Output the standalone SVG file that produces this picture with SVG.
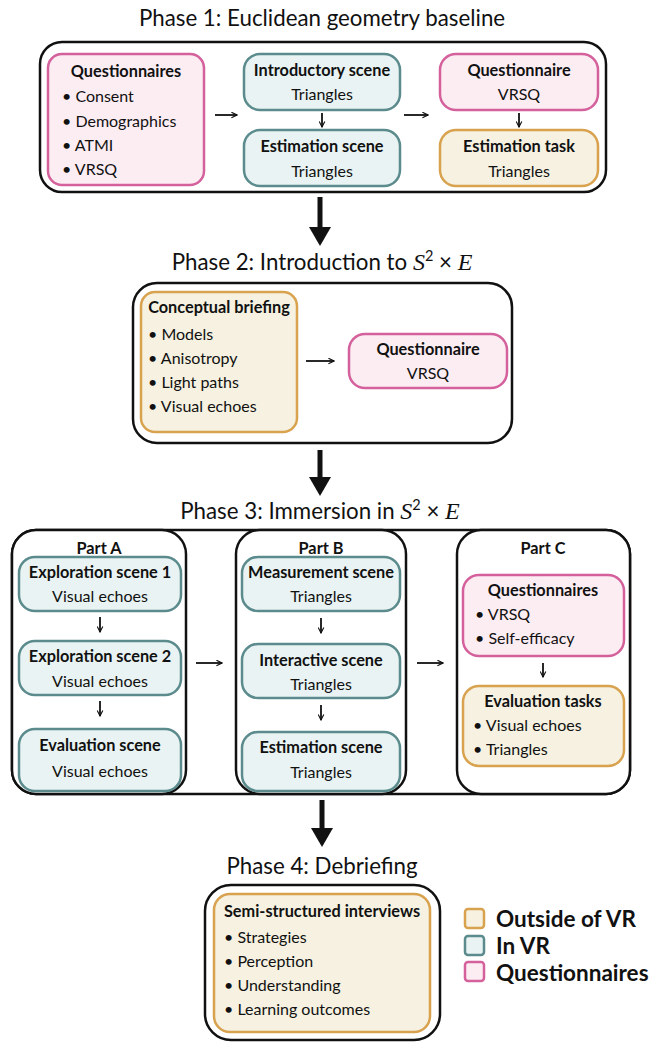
<svg xmlns="http://www.w3.org/2000/svg" width="671" height="1044" viewBox="0 0 671 1044">
<defs>
<style>
.title{font-family:Lato,"Noto Sans",sans-serif;font-size:22.3px;fill:#111;text-anchor:middle}
.math{font-family:"Liberation Serif",serif;font-style:italic}
.h{font-family:Lato,"Noto Sans",sans-serif;font-size:16.3px;font-weight:bold;fill:#111;text-anchor:middle}
.t{font-family:Lato,"Noto Sans",sans-serif;font-size:16px;fill:#111;text-anchor:middle}
.b{font-family:Lato,"Noto Sans",sans-serif;font-size:16px;fill:#111}
.leg{font-family:Lato,"Noto Sans",sans-serif;font-size:22.5px;font-weight:bold;fill:#111}
.outer{fill:#fff;stroke:#111;stroke-width:2.5}
.pink{fill:#fcedf3;stroke:#d4609c;stroke-width:2.5}
.teal{fill:#e9f3f3;stroke:#5b8b8c;stroke-width:2.5}
.orange{fill:#f6f1e1;stroke:#d8a24e;stroke-width:2.5}
.sa{fill:none;stroke:#111;stroke-width:1.8;marker-end:url(#chev)}
.big{fill:none;stroke:#111;stroke-width:5}
</style>
<marker id="chev" viewBox="0 0 10 10" refX="9" refY="5" markerWidth="7" markerHeight="7" orient="auto" markerUnits="userSpaceOnUse">
<path d="M1,1 L9,5 L1,9" fill="none" stroke="#111" stroke-width="1.6"/>
</marker>
</defs>
<rect width="671" height="1044" fill="#fff"/>

<!-- Phase 1 -->
<text class="title" x="322" y="26">Phase 1: Euclidean geometry baseline</text>
<g id="phase1">
<rect class="outer" x="40" y="42" width="566" height="150" rx="22"/>
</g>
<g id="p1-questionnaires">
<rect class="pink" x="48" y="54" width="156" height="131" rx="14"/>
<text class="h" x="126" y="77">Questionnaires</text>
<g class="b"><text x="62" y="102">• Consent</text><text x="62" y="127">• Demographics</text><text x="62" y="151">• ATMI</text><text x="62" y="175">• VRSQ</text></g>
</g>
<g id="p1-intro">
<rect class="teal" x="244" y="54" width="156" height="56" rx="16"/>
<text class="h" x="322" y="76">Introductory scene</text>
<text class="t" x="322" y="100">Triangles</text>
</g>
<g id="p1-estscene">
<rect class="teal" x="244" y="130" width="156" height="56" rx="16"/>
<text class="h" x="322" y="152">Estimation scene</text>
<text class="t" x="322" y="177">Triangles</text>
</g>
<g id="p1-vrsq">
<rect class="pink" x="440" y="54" width="158" height="56" rx="16"/>
<text class="h" x="519" y="76">Questionnaire</text>
<text class="t" x="519" y="100">VRSQ</text>
</g>
<g id="p1-esttask">
<rect class="orange" x="440" y="130" width="158" height="56" rx="16"/>
<text class="h" x="519" y="152">Estimation task</text>
<text class="t" x="519" y="177">Triangles</text>
</g>

<!-- Phase 2 -->
<text class="title" x="322" y="270">Phase 2: Introduction to <tspan class="math" font-size="24">S</tspan><tspan font-size="14.5" dy="-9">2</tspan><tspan dy="9"> × </tspan><tspan class="math" font-size="24">E</tspan></text>
<g id="phase2">
<rect class="outer" x="133" y="283" width="379" height="160" rx="24"/>
</g>
<g id="p2-briefing">
<rect class="orange" x="141" y="292" width="156" height="140" rx="14"/>
<text class="h" x="219" y="313">Conceptual briefing</text>
<g class="b"><text x="148" y="340">• Models</text><text x="148" y="364">• Anisotropy</text><text x="148" y="388">• Light paths</text><text x="148" y="412">• Visual echoes</text></g>
</g>
<g id="p2-vrsq">
<rect class="pink" x="349" y="334" width="158" height="54" rx="16"/>
<text class="h" x="428" y="355">Questionnaire</text>
<text class="t" x="428" y="379">VRSQ</text>
</g>

<!-- Phase 3 -->
<text class="title" x="320" y="519">Phase 3: Immersion in <tspan class="math" font-size="24">S</tspan><tspan font-size="14.5" dy="-9">2</tspan><tspan dy="9"> × </tspan><tspan class="math" font-size="24">E</tspan></text>
<g id="phase3">
<rect class="outer" x="12" y="530" width="618" height="264" rx="24"/>
</g>
<g id="partA">
<rect class="outer" x="12" y="530" width="174" height="264" rx="24"/>
<text class="h" x="99" y="554">Part A</text>
</g>
<g id="a-exp1">
<rect class="teal" x="19" y="557" width="162" height="54" rx="16"/>
<text class="h" x="100" y="578">Exploration scene 1</text>
<text class="t" x="100" y="602">Visual echoes</text>
</g>
<g id="a-exp2">
<rect class="teal" x="19" y="641" width="162" height="54" rx="16"/>
<text class="h" x="100" y="662">Exploration scene 2</text>
<text class="t" x="100" y="687">Visual echoes</text>
</g>
<g id="a-eval">
<rect class="teal" x="19" y="729" width="162" height="62" rx="16"/>
<text class="h" x="100" y="751">Evaluation scene</text>
<text class="t" x="100" y="777">Visual echoes</text>
</g>
<g id="partB">
<rect class="outer" x="236" y="530" width="170" height="264" rx="24"/>
<text class="h" x="321" y="554">Part B</text>
</g>
<g id="b-meas">
<rect class="teal" x="242" y="557" width="158" height="54" rx="16"/>
<text class="h" x="321" y="578">Measurement scene</text>
<text class="t" x="321" y="602">Triangles</text>
</g>
<g id="b-inter">
<rect class="teal" x="242" y="644" width="158" height="54" rx="16"/>
<text class="h" x="321" y="666">Interactive scene</text>
<text class="t" x="321" y="690">Triangles</text>
</g>
<g id="b-est">
<rect class="teal" x="242" y="732" width="158" height="59" rx="16"/>
<text class="h" x="321" y="753">Estimation scene</text>
<text class="t" x="321" y="778">Triangles</text>
</g>
<g id="partC">
<rect class="outer" x="457" y="530" width="173" height="264" rx="24"/>
<text class="h" x="543" y="554">Part C</text>
</g>
<g id="c-quest">
<rect class="pink" x="463" y="575" width="161" height="81" rx="16"/>
<text class="h" x="543" y="596">Questionnaires</text>
<g class="b"><text x="475" y="620">• VRSQ</text><text x="475" y="644">• Self-efficacy</text></g>
</g>
<g id="c-eval">
<rect class="orange" x="463" y="686" width="161" height="80" rx="16"/>
<text class="h" x="543" y="707">Evaluation tasks</text>
<g class="b"><text x="473" y="731">• Visual echoes</text><text x="473" y="755">• Triangles</text></g>
</g>

<!-- Phase 4 -->
<text class="title" x="322" y="874">Phase 4: Debriefing</text>
<g id="phase4">
<rect class="outer" x="205" y="885" width="235" height="155" rx="26"/>
</g>
<g id="p4-interviews">
<rect class="orange" x="214" y="894" width="216" height="138" rx="16"/>
<text class="h" x="322" y="917">Semi-structured interviews</text>
<g class="b"><text x="224" y="943">• Strategies</text><text x="224" y="967">• Perception</text><text x="224" y="991">• Understanding</text><text x="224" y="1015">• Learning outcomes</text></g>
</g>

<!-- Legend -->
<g id="legend">
<rect class="orange" x="465" y="909" width="19" height="19" rx="3"/>
<rect class="teal" x="465" y="936" width="19" height="19" rx="3"/>
<rect class="pink" x="465" y="962" width="19" height="19" rx="3"/>
<text class="leg" x="496" y="927">Outside of VR</text>
<text class="leg" x="496" y="954">In VR</text>
<text class="leg" x="496" y="981">Questionnaires</text>
</g>

<!-- Connectors -->
<g id="connectors">
<path class="sa" d="M215,115 H237"/>
<path class="sa" d="M322,113 V127"/>
<path class="sa" d="M404,115 H428"/>
<path class="sa" d="M519,113 V127"/>
<path class="sa" d="M306,361 H334"/>
<path class="sa" d="M100,617 V632"/>
<path class="sa" d="M100,701 V716"/>
<path class="sa" d="M321,618 V633"/>
<path class="sa" d="M321,705 V720"/>
<path class="sa" d="M543,663 V677"/>
<path class="sa" d="M196,663 H222"/>
<path class="sa" d="M417,663 H443"/>
<path class="big" d="M320,197 V228"/><path d="M309,227 L331,227 L320,246 Z" fill="#111"/>
<path class="big" d="M320,450 V478"/><path d="M309,477 L331,477 L320,496 Z" fill="#111"/>
<path class="big" d="M322,800 V829"/><path d="M311,828 L333,828 L322,847 Z" fill="#111"/>
</g>
</svg>
